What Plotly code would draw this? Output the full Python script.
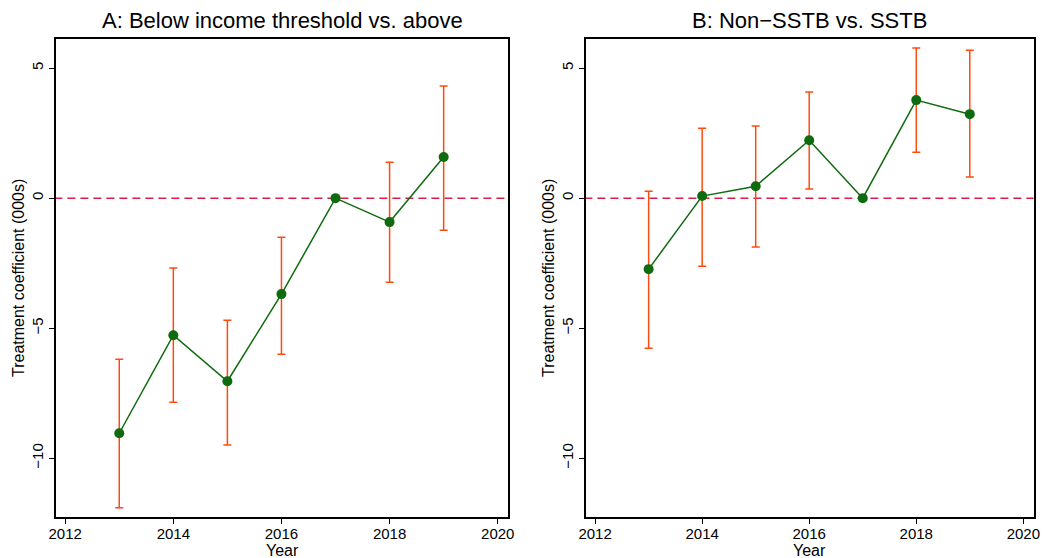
import plotly.graph_objects as go

years = [2013, 2014, 2015, 2016, 2017, 2018, 2019]

# Panel A: Below income threshold vs. above
a_coef = [-9.04, -5.27, -7.04, -3.69, 0.0, -0.92, 1.58]
a_hi = [-6.19, -2.69, -4.69, -1.50, None, 1.38, 4.31]
a_lo = [-11.90, -7.85, -9.49, -6.00, None, -3.23, -1.23]

# Panel B: Non-SSTB vs. SSTB
b_coef = [-2.73, 0.08, 0.46, 2.23, 0.0, 3.77, 3.23]
b_hi = [0.27, 2.69, 2.77, 4.08, None, 5.77, 5.69]
b_lo = [-5.77, -2.62, -1.88, 0.35, None, 1.77, 0.81]

titles = ["A: Below income threshold vs. above", "B: Non\u2212SSTB vs. SSTB"]
x_title = "Year"
y_title = "Treatment coefficient (000s)"
x_ticks = [2012, 2014, 2016, 2018, 2020]
y_ticks = [-10, -5, 0, 5]
y_labels = ["\u221210", "\u22125", "0", "5"]

GREEN = "#0f6b0f"
ORANGE = "#ff4a0f"
CRIMSON = "#d81e4a"
FONT = "Liberation Sans, Arial, Helvetica, sans-serif"
W, H = 1047, 558

fig = go.Figure()

panels = [(a_coef, a_hi, a_lo), (b_coef, b_hi, b_lo)]
domains = [[56 / W, 508 / W], [586 / W, 1033.5 / W]]
ydom = [1 - 517 / H, 1 - 39 / H]
ytitle_x = [19 / W, 549 / W]

for i, (coef, hi, lo) in enumerate(panels):
    xa = "x" if i == 0 else "x2"
    ya = "y" if i == 0 else "y2"
    ex, ey, eplus, eminus = [], [], [], []
    for yr, c, h, l in zip(years, coef, hi, lo):
        if h is None:
            continue
        ex.append(yr)
        ey.append(c)
        eplus.append(h - c)
        eminus.append(c - l)
    # zero reference line
    fig.add_trace(go.Scatter(
        x=[2011.8, 2020.2], y=[0, 0], mode="lines",
        line=dict(color=CRIMSON, width=1.5, dash="8px,5px"),
        xaxis=xa, yaxis=ya, showlegend=False, hoverinfo="skip"))
    # confidence intervals
    fig.add_trace(go.Scatter(
        x=ex, y=ey, mode="markers", marker=dict(size=1, opacity=0),
        error_y=dict(type="data", symmetric=False, array=eplus, arrayminus=eminus,
                     color=ORANGE, thickness=1.5, width=4),
        xaxis=xa, yaxis=ya, showlegend=False))
    # coefficients
    fig.add_trace(go.Scatter(
        x=years, y=coef, mode="lines+markers",
        line=dict(color=GREEN, width=1.5),
        marker=dict(color=GREEN, size=10),
        xaxis=xa, yaxis=ya, showlegend=False))

axis_common = dict(showline=True, linecolor="black", linewidth=1.5, mirror=True,
                   ticks="outside", ticklen=5, tickwidth=1, tickcolor="black",
                   showgrid=False, zeroline=False, automargin=False,
                   tickfont=dict(size=15, color="black", family=FONT))

for i in range(2):
    sfx = "" if i == 0 else "2"
    fig.update_layout(**{
        "xaxis" + sfx: dict(domain=domains[i], range=[2011.83, 2020.19],
                            tickvals=x_ticks, anchor="y" + sfx,
                            ticklabelstandoff=-3,
                            **axis_common),
        "yaxis" + sfx: dict(domain=ydom, range=[-12.26, 6.12], anchor="x" + sfx,
                            tickvals=y_ticks, ticktext=y_labels, tickangle=-90,
                            **axis_common),
    })
    fig.add_annotation(text=titles[i], x=sum(domains[i]) / 2, y=1 - 20 / H,
                       xref="paper", yref="paper", showarrow=False,
                       xanchor="center", yanchor="middle",
                       font=dict(size=22, color="black", family=FONT))
    fig.add_annotation(text=x_title, x=sum(domains[i]) / 2, y=1 - 540 / H,
                       xref="paper", yref="paper", showarrow=False,
                       xanchor="center", yanchor="top",
                       font=dict(size=16, color="black", family=FONT))
    fig.add_annotation(text=y_title, x=ytitle_x[i], y=sum(ydom) / 2,
                       xref="paper", yref="paper", showarrow=False, textangle=-90,
                       xanchor="center", yanchor="middle",
                       font=dict(size=16, color="black", family=FONT))

fig.update_layout(width=W, height=H, margin=dict(l=0, r=0, t=0, b=0),
                  paper_bgcolor="white", plot_bgcolor="white",
                  font=dict(family=FONT, color="black"))

fig.write_html("out.html", config={"displayModeBar": False},
               post_script="document.body.style.margin='0';")
